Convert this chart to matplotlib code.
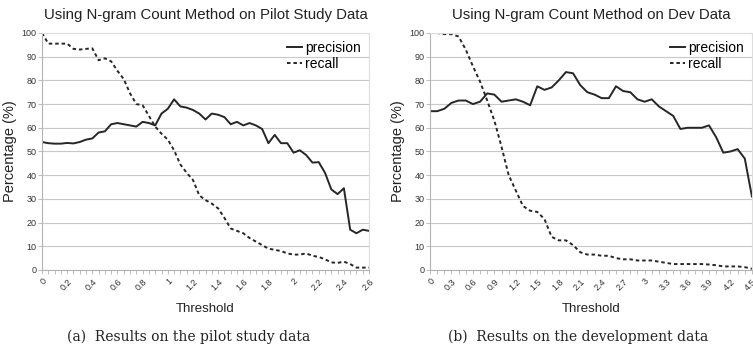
import numpy as np
import matplotlib
matplotlib.use("Agg")
import matplotlib.pyplot as plt

plt.rcParams['font.family'] = ['Liberation Sans', 'DejaVu Sans']

# pilot study data, threshold step 0.05
pilot_thr = np.round(np.arange(0, 2.6001, 0.05), 2)
pilot_precision = [54, 53.5, 53.3, 53.3, 53.6, 53.4, 54, 55, 55.5, 58, 58.5, 61.5, 62,
                   61.5, 61, 60.5, 62.5, 62, 61, 66, 68, 72, 69, 68.5, 67.5, 66,
                   63.5, 66, 65.5, 64.5, 61.5, 62.5, 61, 62, 61, 59.5, 53.5, 57,
                   53.5, 53.5, 49.5, 50.5, 48.5, 45.3, 45.5, 41, 34, 32, 34.5, 17,
                   15.5, 17, 16.5]
pilot_recall = [100, 95.5, 95.5, 95.5, 95.5, 93.3, 93, 93.3, 93.5, 88.5, 89.3, 88, 84,
                80.5, 74.5, 70, 69.5, 65, 60.5, 57.5, 55, 50.5, 44.5, 41, 38, 31.5,
                29.5, 28, 26, 22, 17.5, 16.5, 15.5, 13.5, 12, 10.5, 9, 8.5, 8, 7,
                6.5, 6.5, 7, 6, 5.5, 4.5, 3.2, 3, 3.5, 2.5, 1, 1, 1]

# development data, threshold step 0.1
dev_thr = np.round(np.arange(0, 4.5001, 0.1), 1)
dev_precision = [67, 67, 68, 70.5, 71.5, 71.5, 70, 71, 74.5, 74, 71, 71.5, 72, 71,
                 69.5, 77.5, 76, 77, 80, 83.5, 83, 78, 75, 74, 72.5, 72.5, 77.5,
                 75.5, 75, 72, 71, 72, 69, 67, 65, 59.5, 60, 60, 60, 61, 56, 49.5,
                 50, 51, 47, 31]
dev_recall = [100, 100, 99.5, 99.5, 98.5, 93, 86, 79.5, 71.5, 63, 52, 40, 33.5, 27,
              25, 24.5, 21.5, 14, 12.5, 12.5, 10.5, 7.5, 6.5, 6.5, 6, 6, 5, 4.5, 4.5,
              4, 4, 4, 3.5, 3, 2.5, 2.5, 2.5, 2.5, 2.5, 2.3, 2, 1.5, 1.5, 1.5, 1.2, 0.5]

fig = plt.figure(figsize=(7.53, 3.46), dpi=100)

def draw_panel(rect, thr, prec, rec, label_every, title, caption, cap_x):
    ax = fig.add_axes(rect)
    idx = np.arange(len(thr))
    ax.plot(idx, prec, color='#262626', lw=1.4, label='precision')
    ax.plot(idx, rec, color='#262626', lw=1.4, ls=(0, (1.8, 1.5)), label='recall')
    ax.set_xlim(0, len(thr) - 1)
    ax.set_ylim(0, 100)
    ax.set_yticks(range(0, 101, 10))
    ax.set_xticks(idx)
    labels = []
    for i, t in enumerate(thr):
        if i % label_every == 0:
            labels.append('%g' % t)
        else:
            labels.append('')
    ax.set_xticklabels(labels, rotation=45, ha='right', rotation_mode='anchor',
                       fontsize=6.5, color='#333333')
    ax.tick_params(axis='x', length=3, width=0.6, color='#b3b3b3', pad=2)
    ax.tick_params(axis='y', length=3, width=0.6, color='#b3b3b3', labelsize=6.5,
                   labelcolor='#333333', pad=1)
    ax.grid(axis='y', color='#c8c8c8', lw=0.8)
    ax.set_axisbelow(True)
    for s in ['top', 'right']:
        ax.spines[s].set_color('#dddddd')
        ax.spines[s].set_linewidth(0.8)
    for s in ['left', 'bottom']:
        ax.spines[s].set_color('#b3b3b3')
        ax.spines[s].set_linewidth(0.8)
    ax.set_title(title, fontsize=10.8, color='#222222', pad=10)
    ax.set_xlabel('Threshold', fontsize=9.5, color='#222222', labelpad=8)
    ax.set_ylabel('Percentage (%)', fontsize=10.5, color='#222222', labelpad=3)
    ax.legend(loc='upper right', frameon=False, fontsize=10, handlelength=1.1,
              handletextpad=0.2, borderaxespad=0.2, labelspacing=0.1)
    fig.text(cap_x, 0.028, caption, ha='center', va='center',
             fontsize=10, family='DejaVu Serif', color='#222222')
    return ax

draw_panel([0.0558, 0.2197, 0.4343, 0.685], pilot_thr, pilot_precision, pilot_recall, 4,
           'Using N-gram Count Method on Pilot Study Data',
           '(a)  Results on the pilot study data', 0.25)
draw_panel([0.571, 0.2197, 0.4276, 0.685], dev_thr, dev_precision, dev_recall, 3,
           'Using N-gram Count Method on Dev Data',
           '(b)  Results on the development data', 0.768)

fig.savefig('out.png', dpi=100)
